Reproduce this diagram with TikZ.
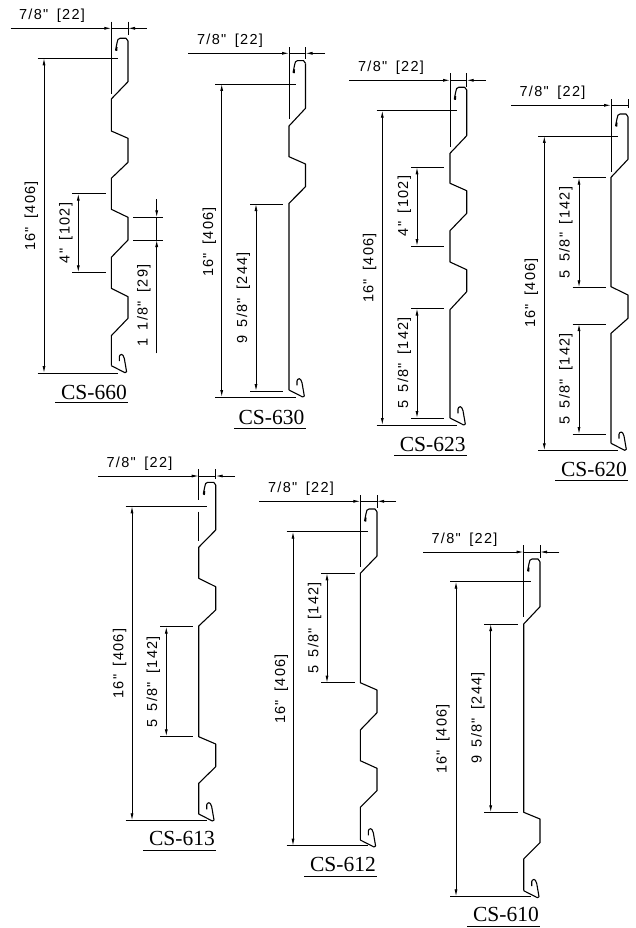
\documentclass[tikz,border=0pt]{standalone}
\usepackage{fontspec}
\usetikzlibrary{arrows.meta}
\newfontfamily\dimfont[LetterSpace=9,WordSpace=1.6]{Liberation Sans}
\newfontfamily\capfont{Liberation Serif}
\newcommand{\sk}{\kern1.3pt/\kern1.3pt}
\tikzset{
  panel/.style={line width=1.1pt, line join=round},
  dim/.style={line width=0.8pt},
  dimto/.style={line width=0.8pt, -{Latex[length=7pt,width=3pt]}},
  dimboth/.style={line width=0.8pt, {Latex[length=7pt,width=3pt]}-{Latex[length=7pt,width=3pt]}},
  dimtext/.style={inner sep=0pt, anchor=base, font=\dimfont\fontsize{14.5}{16}\selectfont},
  dimup/.style={dimtext, rotate=90},
  capt/.style={inner sep=0pt, anchor=base east, font=\capfont\fontsize{21.5}{24}\selectfont},
  tophook/.pic={\draw[panel] (0,0) -- (-2,-2.7) -- (-8,-2.7) .. controls (-10,-2.7) and (-10.5,-1) .. (-11,2) -- (-12.4,9) -- (-11.3,9.5) -- (-11,6);},
  bothook/.pic={\draw[panel] (0,0) -- (13.7,7) -- (15.3,6) -- (13,-7.3) .. controls (12.5,-10) and (11,-11.3) .. (10.3,-11.3) .. controls (9,-11.3) and (8,-10) .. (8,-9) -- (8,-4.7);}
}
\begin{document}
\begin{tikzpicture}[x=1pt,y=-1pt]
  \useasboundingbox (0,0) rectangle (636,928);

  % CS-660
  \draw[panel] (128,41) -- (128,81.7) -- (111.3,99) -- (111.3,131) -- (128,138.3) -- (128,162.3) -- (111.3,178.3) -- (111.3,209.3) -- (128,217.3) -- (128,240) -- (111.3,257.3) -- (111.3,288.3) -- (128,296.7) -- (128,318.3) -- (111.3,335.7) -- (111.3,365.7);
  \pic at (128,41) {tophook};
  \pic at (111.3,365.7) {bothook};
  \draw[dim] (111.3,21.7) -- (111.3,94.3);
  \draw[dim] (128,21.7) -- (128,35);
  \draw[dim] (111.3,28.3) -- (128,28.3);
  \draw[dimto] (10.7,28.3) -- (111.3,28.3);
  \draw[dimto] (146.7,28.3) -- (128,28.3);
  \node[dimtext] (w660) at (52,19.7) {7\sk 8" [22]};
  \draw[dim] (37.7,58.3) -- (118.3,58.3);
  \draw[dim] (37.7,373) -- (118.3,373);
  \draw[dimboth] (44,58.3) -- (44,373);
  \node[dimup] (h660) at (35,216) {16" [406]};
  \draw[dim] (72.3,193.7) -- (105.7,193.7);
  \draw[dim] (72.3,272.3) -- (105.7,272.3);
  \draw[dimboth] (78.3,193.7) -- (78.3,272.3);
  \node[dimup] (a660) at (69.5,233) {4" [102]};
  \draw[dim] (133.3,217.3) -- (163.3,217.3);
  \draw[dim] (133.3,240) -- (163.3,240);
  \draw[dim] (156.7,217.3) -- (156.7,240);
  \draw[dimto] (156.7,199) -- (156.7,217.3);
  \draw[dimto] (156.7,353.3) -- (156.7,240);
  \node[dimup] (b660) at (147.5,305.5) {1 1\sk 8" [29]};
  \node[capt] (cap660) at (127,399.3) {CS-660};
  \draw[dim] (55,402.7) -- (128,402.7);

  % CS-630
  \draw[panel] (305.5,63.3) -- (305.5,108.3) -- (289,126) -- (289,156.7) -- (305.5,164) -- (305.5,186.7) -- (289,203.3) -- (289,390);
  \pic at (305.5,63.3) {tophook};
  \pic at (289,390) {bothook};
  \draw[dim] (289,47.3) -- (289,119.3);
  \draw[dim] (305.5,47.3) -- (305.5,59.3);
  \draw[dim] (289,53.3) -- (305.5,53.3);
  \draw[dimto] (188.3,53.3) -- (289,53.3);
  \draw[dimto] (325,53.3) -- (305.5,53.3);
  \node[dimtext] (w630) at (230,44.7) {7\sk 8" [22]};
  \draw[dim] (215,84) -- (296,84);
  \draw[dim] (215,397) -- (296,397);
  \draw[dimboth] (221.7,84) -- (221.7,397);
  \node[dimup] (h630) at (213,242) {16" [406]};
  \draw[dim] (250,204) -- (283,204);
  \draw[dim] (250,391) -- (283,391);
  \draw[dimboth] (256,204) -- (256,391);
  \node[dimup] (a630) at (247,298) {9 5\sk 8" [244]};
  \node[capt] (cap630) at (304.5,424) {CS-630};
  \draw[dim] (234,428.5) -- (305.5,428.5);

  % CS-623
  \draw[panel] (466.7,90) -- (466.7,135.7) -- (450,153.3) -- (450,183.3) -- (466.7,190.7) -- (466.7,213.3) -- (450,230.7) -- (450,262) -- (466.7,269.7) -- (466.7,291.7) -- (450,309.7) -- (450,418);
  \pic at (466.7,90) {tophook};
  \pic at (450,418) {bothook};
  \draw[dim] (450,73.3) -- (450,146.7);
  \draw[dim] (466.7,73.3) -- (466.7,86.7);
  \draw[dim] (450,80.3) -- (466.7,80.3);
  \draw[dimto] (349.3,80.3) -- (450,80.3);
  \draw[dimto] (485.7,80.3) -- (466.7,80.3);
  \node[dimtext] (w623) at (391,71.7) {7\sk 8" [22]};
  \draw[dim] (376.7,110.7) -- (456.7,110.7);
  \draw[dim] (376.7,425) -- (456.7,425);
  \draw[dimboth] (382.3,110.7) -- (382.3,425);
  \node[dimup] (h623) at (373.3,268) {16" [406]};
  \draw[dim] (411,167.3) -- (444,167.3);
  \draw[dim] (411,246) -- (444,246);
  \draw[dimboth] (417,167.3) -- (417,246);
  \node[dimup] (a623) at (408,206) {4" [102]};
  \draw[dim] (411,308.5) -- (444,308.5);
  \draw[dim] (411,418) -- (444,418);
  \draw[dimboth] (417,308.5) -- (417,418);
  \node[dimup] (b623) at (408,363) {5 5\sk 8" [142]};
  \node[capt] (cap623) at (465.7,451) {CS-623};
  \draw[dim] (394,455.5) -- (466.7,455.5);

  % CS-620
  \draw[panel] (628,116.7) -- (628,159.3) -- (611,177.3) -- (611,286.7) -- (628,295) -- (628,318.3) -- (611,333.3) -- (611,443.3);
  \pic at (628,116.7) {tophook};
  \pic at (611,443.3) {bothook};
  \draw[dim] (611,99.3) -- (611,171.7);
  \draw[dim] (628,99.3) -- (628,108);
  \draw[dim] (611,105.3) -- (628,105.3);
  \draw[dimto] (511,105.3) -- (611,105.3);
  \node[dimtext] (w620) at (552.5,96.5) {7\sk 8" [22]};
  \draw[dim] (538.3,136) -- (618.3,136);
  \draw[dim] (538.3,450.3) -- (618.3,450.3);
  \draw[dimboth] (544.3,136) -- (544.3,450.3);
  \node[dimup] (h620) at (535,293) {16" [406]};
  \draw[dim] (572.7,177.7) -- (605.7,177.7);
  \draw[dim] (572.7,287.3) -- (605.7,287.3);
  \draw[dimboth] (579,177.7) -- (579,287.3);
  \node[dimup] (a620) at (569.5,232.5) {5 5\sk 8" [142]};
  \draw[dim] (572.7,324) -- (605.7,324);
  \draw[dim] (572.7,434) -- (605.7,434);
  \draw[dimboth] (579,324) -- (579,434);
  \node[dimup] (b620) at (569.5,379) {5 5\sk 8" [142]};
  \node[capt] (cap620) at (627,476.3) {CS-620};
  \draw[dim] (555,480.7) -- (628,480.7);

  % CS-613
  \draw[panel] (215.7,485) -- (215.7,530) -- (198.7,547.3) -- (198.7,578.3) -- (215.7,586.7) -- (215.7,610) -- (198.7,626) -- (198.7,736.7) -- (215.7,744) -- (215.7,766.7) -- (198.7,783.3) -- (198.7,814);
  \pic at (215.7,485) {tophook};
  \pic at (198.7,814) {bothook};
  \draw[dim] (198.7,469.3) -- (198.7,500);
  \draw[dim] (198.7,511.7) -- (198.7,541);
  \draw[dim] (215.7,469.3) -- (215.7,479.3);
  \draw[dim] (198.7,476) -- (215.7,476);
  \draw[dimto] (98.3,476) -- (198.7,476);
  \draw[dimto] (235,476) -- (215.7,476);
  \node[dimtext] (w613) at (139.5,467.5) {7\sk 8" [22]};
  \draw[dim] (125.7,506.3) -- (206.7,506.3);
  \draw[dim] (125.7,820.3) -- (206.7,820.3);
  \draw[dimboth] (132,506.3) -- (132,820.3);
  \node[dimup] (h613) at (123.3,663.7) {16" [406]};
  \draw[dim] (160,626.7) -- (193.3,626.7);
  \draw[dim] (160,736.3) -- (193.3,736.3);
  \draw[dimboth] (166.3,626.7) -- (166.3,736.3);
  \node[dimup] (a613) at (157,682) {5 5\sk 8" [142]};
  \node[capt] (cap613) at (215,845.7) {CS-613};
  \draw[dim] (143.3,850.7) -- (216,850.7);

  % CS-612
  \draw[panel] (377,511.7) -- (377,556) -- (360.3,573.3) -- (360.3,682.7) -- (377,690) -- (377,712.7) -- (360.3,730) -- (360.3,760.7) -- (377,768.3) -- (377,790.7) -- (360.3,807.3) -- (360.3,840);
  \pic at (377,511.7) {tophook};
  \pic at (360.3,840) {bothook};
  \draw[dim] (360.3,495) -- (360.3,566.7);
  \draw[dim] (377,495) -- (377,507.7);
  \draw[dim] (360.3,501.3) -- (377,501.3);
  \draw[dimto] (259,501.3) -- (360.3,501.3);
  \draw[dimto] (396,501.3) -- (377,501.3);
  \node[dimtext] (w612) at (301,492.7) {7\sk 8" [22]};
  \draw[dim] (286.7,531.7) -- (367.7,531.7);
  \draw[dim] (286.7,845.7) -- (367.7,845.7);
  \draw[dimboth] (293,531.7) -- (293,845.7);
  \node[dimup] (h612) at (285,689) {16" [406]};
  \draw[dim] (321,573.3) -- (355,573.3);
  \draw[dim] (321,682.7) -- (355,682.7);
  \draw[dimboth] (327,573.3) -- (327,682.7);
  \node[dimup] (a612) at (318.3,628) {5 5\sk 8" [142]};
  \node[capt] (cap612) at (376,871.7) {CS-612};
  \draw[dim] (304.3,876.7) -- (377,876.7);

  % CS-610
  \draw[panel] (540,561.7) -- (540,606.7) -- (523.7,624) -- (523.7,812.3) -- (540,819) -- (540,842.7) -- (523.7,859) -- (523.7,890.7);
  \pic at (540,561.7) {tophook};
  \pic at (523.7,890.7) {bothook};
  \draw[dim] (523.5,545) -- (523.5,616.7);
  \draw[dim] (540,545) -- (540,558.3);
  \draw[dim] (523.5,552) -- (540,552);
  \draw[dimto] (423.3,552) -- (523.5,552);
  \draw[dimto] (559.3,552) -- (540,552);
  \node[dimtext] (w610) at (464.5,543.5) {7\sk 8" [22]};
  \draw[dim] (450,581.7) -- (530.7,581.7);
  \draw[dim] (450,896.3) -- (530.7,896.3);
  \draw[dimboth] (456,581.7) -- (456,896.3);
  \node[dimup] (h610) at (446.7,739) {16" [406]};
  \draw[dim] (484.3,624) -- (517.7,624);
  \draw[dim] (484.3,812.3) -- (517.7,812.3);
  \draw[dimboth] (490.7,624) -- (490.7,812.3);
  \node[dimup] (a610) at (481.7,718) {9 5\sk 8" [244]};
  \node[capt] (cap610) at (539,921.7) {CS-610};
  \draw[dim] (467.3,926.7) -- (540,926.7);
\end{tikzpicture}
\end{document}
